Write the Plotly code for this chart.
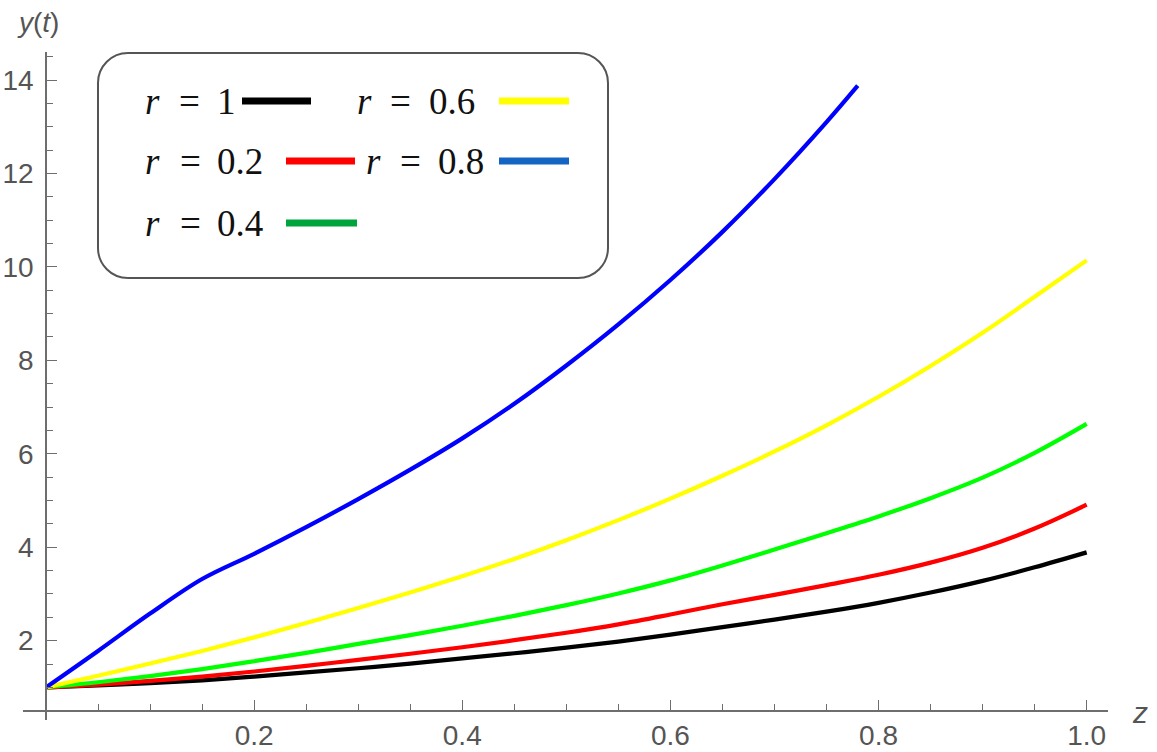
import plotly.graph_objects as go

# ---------------- data ----------------
z_vals = [0.00, 0.05, 0.10, 0.15, 0.20, 0.25, 0.30, 0.35, 0.40, 0.45, 0.50,
          0.55, 0.60, 0.65, 0.70, 0.75, 0.80, 0.85, 0.90, 0.95, 1.00]
y_r1 = [1.00, 1.04, 1.09, 1.15, 1.23, 1.32, 1.41, 1.51, 1.62, 1.73, 1.85,
        1.98, 2.13, 2.29, 2.45, 2.62, 2.81, 3.03, 3.28, 3.57, 3.89]
y_r02 = [1.00, 1.06, 1.14, 1.23, 1.34, 1.46, 1.59, 1.72, 1.86, 2.01, 2.17,
         2.35, 2.56, 2.78, 2.98, 3.19, 3.41, 3.67, 3.99, 4.40, 4.91]
y_r04 = [1.00, 1.11, 1.24, 1.39, 1.56, 1.74, 1.93, 2.12, 2.32, 2.53, 2.76,
         3.01, 3.29, 3.61, 3.95, 4.30, 4.66, 5.05, 5.49, 6.02, 6.64]
y_r06 = [1.00, 1.25, 1.51, 1.78, 2.07, 2.38, 2.70, 3.03, 3.38, 3.75, 4.15,
         4.58, 5.04, 5.53, 6.05, 6.61, 7.22, 7.88, 8.59, 9.36, 10.14]
z_blue = [0.00, 0.05, 0.10, 0.15, 0.20, 0.25, 0.30, 0.35, 0.40, 0.45, 0.50,
          0.55, 0.60, 0.65, 0.70, 0.75, 0.78]
y_r08 = [1.00, 1.78, 2.58, 3.32, 3.86, 4.43, 5.03, 5.66, 6.33, 7.07, 7.89,
         8.77, 9.72, 10.75, 11.88, 13.10, 13.88]

x_tickvals = [0.2, 0.4, 0.6, 0.8, 1.0]
x_ticktext = ["0.2", "0.4", "0.6", "0.8", "1.0"]
y_tickvals = [2, 4, 6, 8, 10, 12, 14]
y_ticktext = ["2", "4", "6", "8", "10", "12", "14"]

legend_names = ["r", "r", "r", "r", "r"]
legend_values = ["1", "0.6", "0.2", "0.8", "0.4"]

# ---------------- layout constants ----------------
W, H = 1157, 752
ML, MR, MT, MB = 23, 49, 52, 32
PW, PH = W - ML - MR, H - MT - MB
XR = [-0.0221, 1.0205]
YR = [0.302, 14.6]
AXC = "#6e6e6e"
TXC = "#555555"


def px(x):
    return (x - ML) / PW


def py(y):
    return (H - MB - y) / PH


fig = go.Figure()
series = [
    (z_vals, y_r1, "#000000"),
    (z_vals, y_r02, "#ff0000"),
    (z_vals, y_r04, "#00ff00"),
    (z_vals, y_r06, "#ffff00"),
    (z_blue, y_r08, "#0000ff"),
]
for xs, ys, col in series:
    fig.add_trace(go.Scatter(x=xs, y=ys, mode="lines",
                             line=dict(color=col, width=4.2, shape="spline", smoothing=1.0),
                             showlegend=False, hoverinfo="skip"))

x_axis_pos = (0.5 - YR[0]) / (YR[1] - YR[0])
y_axis_pos = (0 - XR[0]) / (XR[1] - XR[0])

tickfont = dict(family="Liberation Sans, Arial", size=28, color=TXC)
fig.update_layout(
    width=W, height=H,
    margin=dict(l=ML, r=MR, t=MT, b=MB, autoexpand=False),
    paper_bgcolor="white", plot_bgcolor="white",
    showlegend=False,
    xaxis=dict(range=XR, anchor="free", position=x_axis_pos, automargin=False,
               showline=True, linecolor=AXC, linewidth=1.6,
               showgrid=False, zeroline=False,
               tickmode="array", tickvals=x_tickvals, ticktext=x_ticktext,
               ticks="inside", ticklen=10, tickwidth=1.4, tickcolor=AXC,
               ticklabelstandoff=0, tickfont=tickfont,
               minor=dict(ticks="inside", ticklen=6, tickwidth=1.2, tickcolor=AXC,
                          dtick=0.05, tick0=0, showgrid=False)),
    yaxis=dict(range=YR, anchor="free", position=y_axis_pos, automargin=False,
               showline=True, linecolor=AXC, linewidth=1.6,
               showgrid=False, zeroline=False,
               tickmode="array", tickvals=y_tickvals, ticktext=y_ticktext,
               ticks="inside", ticklen=10, tickwidth=1.4, tickcolor=AXC,
               ticklabelstandoff=6, tickfont=tickfont,
               minor=dict(ticks="inside", ticklen=6, tickwidth=1.2, tickcolor=AXC,
                          dtick=0.5, tick0=0, showgrid=False)),
)

# axis labels
fig.add_annotation(xref="paper", yref="paper", x=px(38), y=py(22),
                   xanchor="center", yanchor="middle", showarrow=False,
                   text="<i>y</i>(<i>t</i>)",
                   font=dict(family="Liberation Sans, Arial", size=28, color=TXC))
fig.add_annotation(xref="paper", yref="paper", x=px(1130), y=py(712),
                   xanchor="left", yanchor="middle", showarrow=False,
                   text="<i>z</i>",
                   font=dict(family="Liberation Sans, Arial", size=30, color=TXC))

# legend box (rounded rectangle)
bx0, bx1, by0, by1, rr = 98, 608, 53, 278, 30
k = 0.5523 * rr


def P(x, y):
    return f"{px(x):.5f},{py(y):.5f}"


path = (f"M {P(bx0 + rr, by0)} L {P(bx1 - rr, by0)} "
        f"C {P(bx1 - rr + k, by0)} {P(bx1, by0 + rr - k)} {P(bx1, by0 + rr)} "
        f"L {P(bx1, by1 - rr)} "
        f"C {P(bx1, by1 - rr + k)} {P(bx1 - rr + k, by1)} {P(bx1 - rr, by1)} "
        f"L {P(bx0 + rr, by1)} "
        f"C {P(bx0 + rr - k, by1)} {P(bx0, by1 - rr + k)} {P(bx0, by1 - rr)} "
        f"L {P(bx0, by0 + rr)} "
        f"C {P(bx0, by0 + rr - k)} {P(bx0 + rr - k, by0)} {P(bx0 + rr, by0)} Z")
fig.add_shape(type="path", xref="paper", yref="paper", path=path,
              line=dict(color="#555555", width=2), fillcolor="rgba(255,255,255,1)", layer="above")

# positions: r left, '=' centre, value left, row y, swatch x0, x1, colour
legend_pos = [
    (143, 189, 215, 101, 242, 311, "#000000"),
    (355, 400, 427, 101, 499, 569, "#ffff00"),
    (143, 190, 215, 161, 286, 355, "#ff0000"),
    (364, 410, 436, 161, 499, 569, "#1464c4"),
    (143, 190, 215, 223, 286, 357, "#00a43c"),
]
lfont = dict(family="Liberation Serif, Times New Roman", size=37, color="#111111")
for name, val, (rx, ex, vx, ry, sx0, sx1, col) in zip(legend_names, legend_values, legend_pos):
    fig.add_annotation(xref="paper", yref="paper", x=px(rx), y=py(ry),
                       xanchor="left", yanchor="middle", showarrow=False,
                       text=f"<i>{name}</i>", font=lfont)
    fig.add_annotation(xref="paper", yref="paper", x=px(ex), y=py(ry),
                       xanchor="center", yanchor="middle", showarrow=False,
                       text="=", font=lfont)
    fig.add_annotation(xref="paper", yref="paper", x=px(vx), y=py(ry),
                       xanchor="left", yanchor="middle", showarrow=False,
                       text=val, font=lfont)
    fig.add_shape(type="line", xref="paper", yref="paper",
                  x0=px(sx0), x1=px(sx1), y0=py(ry), y1=py(ry),
                  line=dict(color=col, width=7), layer="above")

fig.write_html("out.html")
